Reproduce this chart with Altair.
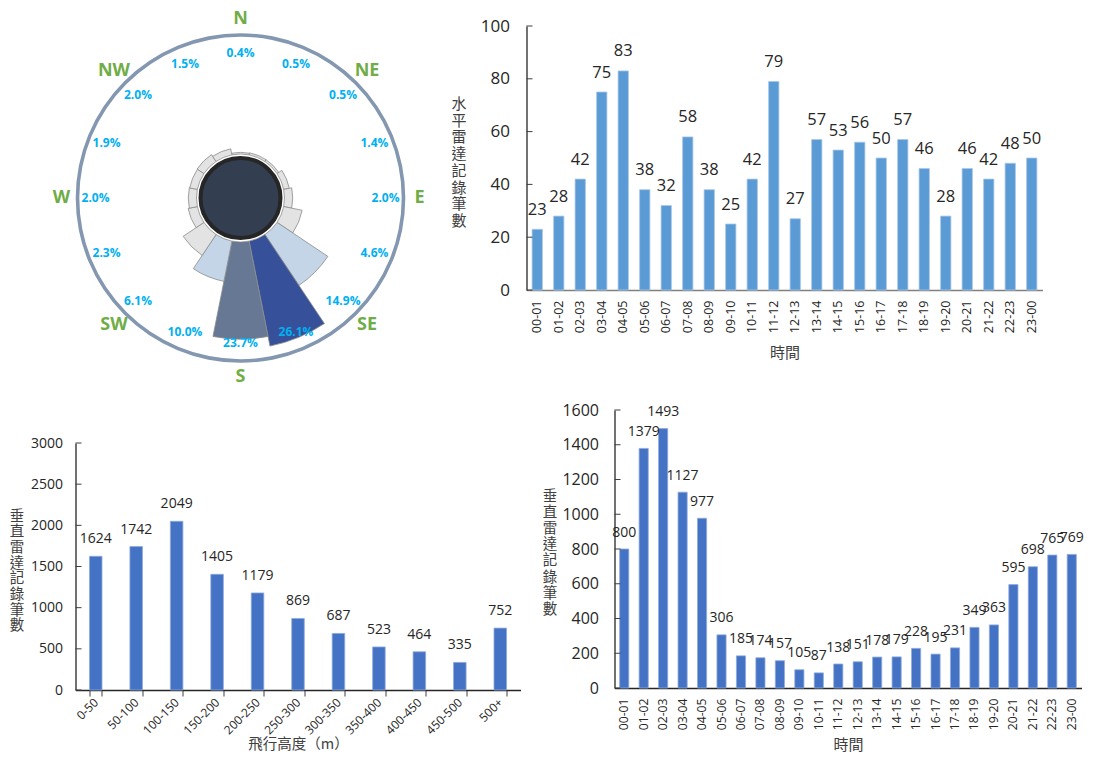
import math
import altair as alt
import pandas as pd

# ---------------- data ----------------
directions = ["N", "NNE", "NE", "ENE", "E", "ESE", "SE", "SSE",
              "S", "SSW", "SW", "WSW", "W", "WNW", "NW", "NNW"]
rose_pct = [0.4, 0.5, 0.5, 1.4, 2.0, 4.6, 14.9, 26.1,
            23.7, 10.0, 6.1, 2.3, 2.0, 1.9, 2.0, 1.5]
compass_labels = ["N", "NE", "E", "SE", "S", "SW", "W", "NW"]

hours = ["00-01", "01-02", "02-03", "03-04", "04-05", "05-06", "06-07", "07-08",
         "08-09", "09-10", "10-11", "11-12", "12-13", "13-14", "14-15", "15-16",
         "16-17", "17-18", "18-19", "19-20", "20-21", "21-22", "22-23", "23-00"]
horiz_counts = [23, 28, 42, 75, 83, 38, 32, 58, 38, 25, 42, 79,
                27, 57, 53, 56, 50, 57, 46, 28, 46, 42, 48, 50]
top_ticks = [0, 20, 40, 60, 80, 100]

alt_bins = ["0-50", "50-100", "100-150", "150-200", "200-250", "250-300",
            "300-350", "350-400", "400-450", "450-500", "500+"]
alt_counts = [1624, 1742, 2049, 1405, 1179, 869, 687, 523, 464, 335, 752]
bl_ticks = [0, 500, 1000, 1500, 2000, 2500, 3000]

vert_counts = [800, 1379, 1493, 1127, 977, 306, 185, 174, 157, 105, 87, 138,
               151, 178, 179, 228, 195, 231, 349, 363, 595, 698, 765, 769]
br_ticks = [0, 200, 400, 600, 800, 1000, 1200, 1400, 1600]

FONT = "Open Sans, Noto Sans CJK TC, sans-serif"
CJK = "Noto Sans CJK TC, sans-serif"
NUM_COLOR = "#262626"
TITLE_COLOR = "#404040"

# ---------------- wind rose ----------------
step = 360 / len(directions)
rose_df = pd.DataFrame({"dir": directions, "pct": rose_pct})
rose_df["angle"] = [i * step for i in range(len(directions))]
rose_df["a0"] = rose_df["angle"] - step / 2
rose_df["a1"] = rose_df["angle"] + step / 2
rose_df["label"] = [f"{v:.1f}%" for v in rose_pct]

comp_df = pd.DataFrame({"name": compass_labels,
                        "angle": [i * 45 for i in range(len(compass_labels))]})
one_df = pd.DataFrame({"k": [0]})

theta_scale = alt.Scale(domain=[0, 360], range=[0, 2 * math.pi])
CX, CY = 165, 172

petals = alt.Chart(rose_df).mark_arc(stroke="#8c8c8c", strokeWidth=0.8).encode(
    x=alt.value(CX), y=alt.value(CY),
    theta=alt.Theta("a0:Q", scale=theta_scale, stack=False),
    theta2="a1:Q",
    radius=alt.Radius("pct:Q", scale=alt.Scale(type="linear", domain=[0, 26.1], range=[44, 151])),
    color=alt.Color("pct:Q", legend=None,
                    scale=alt.Scale(type="threshold", domain=[8, 20, 25],
                                    range=["#e3e3e3", "#c3d5e7", "#667894", "#37509a"])),
)
center = alt.Chart(one_df).mark_arc(fill="#333f50", stroke="#262626", strokeWidth=4).encode(
    x=alt.value(CX), y=alt.value(CY),
    theta=alt.value(0), theta2=alt.value(2 * math.pi),
    radius=alt.value(40),
)
ring = alt.Chart(one_df).mark_arc(fill="#8497b0").encode(
    x=alt.value(CX), y=alt.value(CY),
    theta=alt.value(0), theta2=alt.value(2 * math.pi),
    radius=alt.value(164.8), radius2=alt.value(161.2),
)
pct_text = alt.Chart(rose_df).mark_text(font=FONT, fontSize=12, fontWeight="bold",
                                        color="#00b0f0").encode(
    x=alt.value(CX), y=alt.value(CY),
    theta=alt.Theta("angle:Q", scale=theta_scale, stack=False),
    radius=alt.value(145),
    text="label:N",
)
comp_text = alt.Chart(comp_df).mark_text(font=FONT, fontSize=18, fontWeight="bold",
                                         color="#70ad47").encode(
    x=alt.value(CX), y=alt.value(CY),
    theta=alt.Theta("angle:Q", scale=theta_scale, stack=False),
    radius=alt.value(179),
    text="name:N",
)
rose = alt.layer(petals, center, ring, pct_text, comp_text).properties(width=445, height=264)


def inward_ticks(values, y_enc, x0):
    df = pd.DataFrame({"count": values})
    return alt.Chart(df).mark_rule(color="#404040", strokeWidth=1).encode(
        y=y_enc, x=alt.value(x0), x2=alt.value(x0 + 6))


# ---------------- top-right: horizontal radar ----------------
top_df = pd.DataFrame({"hour": hours, "count": horiz_counts})
x_top = alt.X("hour:N", sort=hours,
              scale=alt.Scale(paddingInner=0.52, paddingOuter=0.26),
              axis=alt.Axis(title="時間", labelAngle=-90, ticks=False, tickSize=0,
                            labelPadding=10, labelFont=FONT, labelFontSize=12.5,
                            labelColor=NUM_COLOR, domainColor="#808080", domainWidth=1.5,
                            titleFont=CJK, titleFontSize=15, titleFontWeight="normal",
                            titleColor=TITLE_COLOR, titleY=62, titleBaseline="middle"))
y_top = alt.Y("count:Q", scale=alt.Scale(domain=[0, 100]),
              axis=alt.Axis(values=top_ticks, grid=False, format="d",
                            ticks=False, tickSize=0, domainColor="#262626",
                            domainWidth=1.3, labelFont=FONT, labelFontSize=17,
                            labelColor=NUM_COLOR, labelPadding=17,
                            title=list("水平雷達記錄筆數"), titleAngle=0,
                            titleFont=CJK, titleFontSize=15, titleFontWeight="normal",
                            titleColor=TITLE_COLOR, titleLineHeight=16.7,
                            titleX=-68, titleY=77.5, titleAlign="center",
                            titleBaseline="middle"))
top_bars = alt.Chart(top_df).mark_bar(color="#5b9bd5", stroke="#a9c8e8", strokeWidth=0.8).encode(
    x=x_top, y=y_top)
top_lbl = alt.Chart(top_df).mark_text(font=FONT, fontSize=16.5, color=NUM_COLOR,
                                      baseline="middle", dy=-19.5).encode(
    x=x_top, y=y_top, text="count:Q")
top = alt.layer(top_bars, top_lbl, inward_ticks(top_ticks, y_top, 0)).properties(
    width=516, height=264)

# ---------------- bottom-left: altitude ----------------
bl_df = pd.DataFrame({"bin": alt_bins, "count": alt_counts})
x_bl = alt.X("bin:N", sort=alt_bins,
             scale=alt.Scale(paddingInner=0.69, paddingOuter=0.345),
             axis=alt.Axis(title="飛行高度（m）", labelAngle=-45, tickBand="extent",
                           labelAlign="right", labelBaseline="middle",
                           tickSize=6, tickColor="#404040", domainColor="#262626",
                           domainWidth=1.3, labelPadding=4, labelFont=FONT,
                           labelFontSize=12, labelColor=NUM_COLOR,
                           titleFont=CJK, titleFontSize=14.5, titleFontWeight="normal",
                           titleColor=TITLE_COLOR, titleY=54, titleBaseline="middle"))
y_bl = alt.Y("count:Q", scale=alt.Scale(domain=[0, 3000], range=[280, 33]),
             axis=alt.Axis(values=bl_ticks, grid=False, format="d",
                           ticks=False, tickSize=0, domainColor="#262626",
                           domainWidth=1.3, labelFont=FONT, labelFontSize=14,
                           labelColor=NUM_COLOR, labelPadding=13,
                           title=list("垂直雷達記錄筆數"), titleAngle=0,
                           titleFont=CJK, titleFontSize=14.5, titleFontWeight="normal",
                           titleColor=TITLE_COLOR, titleLineHeight=15.7,
                           titleX=-59, titleY=106, titleAlign="center",
                           titleBaseline="middle"))
bl_bars = alt.Chart(bl_df).mark_bar(color="#4472c4", stroke="#8faadc", strokeWidth=0.8).encode(
    x=x_bl, y=y_bl)
bl_lbl = alt.Chart(bl_df).mark_text(font=FONT, fontSize=14, color=NUM_COLOR,
                                    baseline="middle", dy=-17).encode(
    x=x_bl, y=y_bl, text="count:Q")
bl = alt.layer(bl_bars, bl_lbl, inward_ticks(bl_ticks, y_bl, 0)).properties(
    width=445, height=280)

# ---------------- bottom-right: vertical radar by hour ----------------
BR_OFF = 88
br_df = pd.DataFrame({"hour": hours, "count": vert_counts})
x_br = alt.X("hour:N", sort=hours,
             scale=alt.Scale(range=[BR_OFF, 555], paddingInner=0.53, paddingOuter=0.265),
             axis=alt.Axis(title="時間", labelAngle=-90, ticks=False, tickSize=0,
                           labelPadding=10, labelFont=FONT, labelFontSize=12.2,
                           labelColor=NUM_COLOR, domainColor="#262626", domainWidth=1.3,
                           titleFont=CJK, titleFontSize=15, titleFontWeight="normal",
                           titleColor=TITLE_COLOR, titleX=(BR_OFF + 555) / 2,
                           titleAlign="center", titleY=56, titleBaseline="middle"))
y_br = alt.Y("count:Q", scale=alt.Scale(domain=[0, 1600]),
             axis=alt.Axis(offset=-BR_OFF, values=br_ticks, grid=False, format="d",
                           ticks=False, tickSize=0, domainColor="#262626",
                           domainWidth=1.3, labelFont=FONT, labelFontSize=16,
                           labelColor=NUM_COLOR, labelPadding=16,
                           title=list("垂直雷達記錄筆數"), titleAngle=0,
                           titleFont=CJK, titleFontSize=14.5, titleFontWeight="normal",
                           titleColor=TITLE_COLOR, titleLineHeight=16.2,
                           titleX=-65, titleY=86, titleAlign="center",
                           titleBaseline="middle"))
br_bars = alt.Chart(br_df).mark_bar(color="#4472c4", stroke="#8faadc", strokeWidth=0.8).encode(
    x=x_br, y=y_br)
br_lbl = alt.Chart(br_df).mark_text(font=FONT, fontSize=14, color=NUM_COLOR,
                                    baseline="middle", dy=-16.5).encode(
    x=x_br, y=y_br, text="count:Q")
br = alt.layer(br_bars, br_lbl, inward_ticks(br_ticks, y_br, BR_OFF)).properties(
    width=555, height=278)

chart = alt.concat(
    rose, top, bl, br, columns=2, bounds="flush",
    spacing={"row": 120, "column": 6},
).properties(
    padding={"left": 0.5, "top": 2, "right": 0, "bottom": 0}
).configure_view(strokeWidth=0)

chart.save("out.html", embed_options={"renderer": "svg", "actions": False})
